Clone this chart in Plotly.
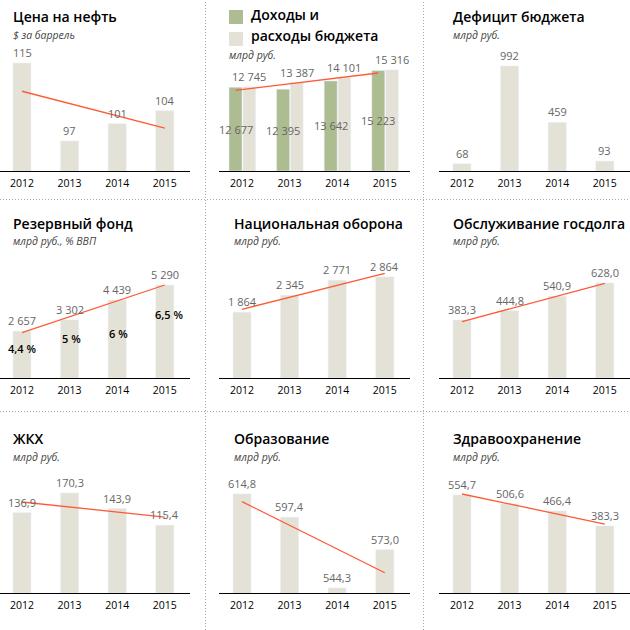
import plotly.graph_objects as go

years = ['2012', '2013', '2014', '2015']

# values
oil = [115, 97, 101, 104]
income = [12677, 12395, 13642, 15223]
spending = [12745, 13387, 14101, 15316]
deficit = [68, 992, 459, 93]
reserve = [2657, 3302, 4439, 5290]
reserve_pct = ['4,4 %', '5 %', '6 %', '6,5 %']
defence = [1864, 2345, 2771, 2864]
debt = [383.3, 444.8, 540.9, 628.0]
housing = [136.9, 170.3, 143.9, 115.4]
education = [614.8, 597.4, 544.3, 573.0]
health = [554.7, 506.6, 466.4, 383.3]

# straight red lines, start and end value
oil_trend = [108.5, 100]
budget_trend = [12200, 14850]
reserve_trend = [2577, 5290]
defence_trend = [1948, 2968]
debt_trend = [372, 626]
housing_trend = [155, 129.4]
education_trend = [609, 555.7]
health_trend = [560, 394]

labels = {
    'oil': ['115', '97', '101', '104'],
    'deficit': ['68', '992', '459', '93'],
    'income': ['12 677', '12 395', '13 642', '15 223'],
    'spending': ['12 745', '13 387', '14 101', '15 316'],
    'reserve': ['2 657', '3 302', '4 439', '5 290'],
    'defence': ['1 864', '2 345', '2 771', '2 864'],
    'debt': ['383,3', '444,8', '540,9', '628,0'],
    'housing': ['136,9', '170,3', '143,9', '115,4'],
    'education': ['614,8', '597,4', '544,3', '573,0'],
    'health': ['554,7', '506,6', '466,4', '383,3'],
}

W = 630
FONT = 'Open Sans'
BEIGE = '#e4e2d6'
GREEN = '#aebd91'
RED = '#ff5a36'
GREY = '#666666'
STEP = 47.6          # px between years
PLOT_H = 120         # px of each plot area

col_left = [0, 219, 439]
col_right = [190, 410, 630]
col_first = [22, 242, 462]
baseline = [171, 378, 593]
title_x = [11, 231.5, 451]
title_y = [16, 223, 438]
sub_y = [34.5, 241.5, 456.5]

# key, title, unit, values, trend, y axis range
panels = [
    ('oil', 'Цена на нефть', '$ за баррель', oil, oil_trend, [90.07, 117.8]),
    ('budget', None, None, spending, budget_trend, [0, 18180]),
    ('deficit', 'Дефицит бюджета', 'млрд руб.', deficit, None, [0, 1134]),
    ('reserve', 'Резервный фонд', 'млрд руб., % ВВП', reserve, reserve_trend, [0, 6826]),
    ('defence', 'Национальная оборона', 'млрд руб.', defence, defence_trend, [0, 3402]),
    ('debt', 'Обслуживание госдолга', 'млрд руб.', debt, debt_trend, [0, 793]),
    ('housing', 'ЖКХ', 'млрд руб.', housing, housing_trend, [0, 204.4]),
    ('education', 'Образование', 'млрд руб.', education, education_trend, [540.5, 630.5]),
    ('health', 'Здравоохранение', 'млрд руб.', health, health_trend, [13, 676]),
]

fig = go.Figure()
ann = []
shapes = []


def px_x(x):
    return x / W


def px_y(y):
    return 1 - y / W


def paper_text(x, y, text, size, color='black', weight=None, style=None):
    ann.append(dict(xref='paper', yref='paper', x=px_x(x), y=px_y(y), text=text,
                    showarrow=False, xanchor='left', yanchor='middle',
                    font=dict(family=FONT, size=size, color=color,
                              weight=weight, style=style)))


def value_text(n, x, y, text, shift=10.5, color=GREY, weight=None, size=11, xshift=0):
    ann.append(dict(xref='x%d' % n, yref='y%d' % n, x=x, y=y, text=text,
                    showarrow=False, xanchor='center', yanchor='middle',
                    yshift=shift, xshift=xshift,
                    font=dict(family=FONT, size=size, color=color, weight=weight)))


pos = [0, 1, 2, 3]
for i, (key, title, unit, vals, trend, yrange) in enumerate(panels):
    n = i + 1
    row, col = i // 3, i % 3
    xa, ya = 'x%d' % n, 'y%d' % n

    if key == 'budget':
        g_off, b_off = -13 / STEP, 1 / STEP
        g_w, b_w = 13 / STEP, 12.5 / STEP
        fig.add_bar(x=pos, y=income, width=g_w, offset=g_off, marker_color=GREEN,
                    xaxis=xa, yaxis=ya, showlegend=False)
        fig.add_bar(x=pos, y=spending, width=b_w, offset=b_off, marker_color=BEIGE,
                    xaxis=xa, yaxis=ya, showlegend=False)
        # numbers sit half way up the green bars and above the beige ones
        for p in pos:
            value_text(n, p + g_off + g_w / 2, income[p] / 2, labels['income'][p], shift=0)
            value_text(n, p + b_off + b_w / 2, spending[p], labels['spending'][p])
        line_x = [g_off / 2, 3 + g_off / 2]
    else:
        fig.add_bar(x=pos, y=vals, width=18 / STEP, marker_color=BEIGE,
                    xaxis=xa, yaxis=ya, showlegend=False)
        for p in pos:
            value_text(n, p, vals[p], labels[key][p])
        line_x = [0, 3]

    if trend:
        fig.add_scatter(x=line_x, y=trend, mode='lines', line=dict(color=RED, width=1.3),
                        xaxis=xa, yaxis=ya, showlegend=False)

    b = baseline[row]
    fig.update_layout({
        'xaxis%d' % n: dict(
            domain=[px_x(col_left[col]), px_x(col_right[col])],
            range=[(col_left[col] - col_first[col]) / STEP,
                   (col_right[col] - col_first[col]) / STEP],
            tickvals=pos, ticktext=years, showgrid=False, zeroline=False,
            showline=True, linecolor='black', linewidth=1.3, ticks='',
            ticklabelstandoff=2,
            tickfont=dict(family=FONT, size=10.5, color='black'),
            anchor=ya, fixedrange=True),
        'yaxis%d' % n: dict(
            domain=[px_y(b), px_y(b - PLOT_H)], range=yrange, visible=False,
            anchor=xa, fixedrange=True),
    })

    if title:
        paper_text(title_x[col], title_y[row], title, 14, weight=600)
        paper_text(title_x[col], sub_y[row], unit, 10.5, color='#444444', style='italic')

# percentages inside the reserve fund bars
pct_y = [1650, 2275, 2560, 3584]
pct_shift = [0, 2, 1, 4]
for p in pos:
    value_text(4, p, pct_y[p], reserve_pct[p], shift=0, color='black', weight=600,
               xshift=pct_shift[p])

# legend of the budget panel doubles as its title
paper_text(249, 14.5, 'Доходы и', 14, weight=600)
paper_text(249, 35.5, 'расходы бюджета', 14, weight=600)
paper_text(227, 54.5, 'млрд руб.', 10.5, color='#444444', style='italic')
for y0, c in [(10, GREEN), (32, BEIGE)]:
    shapes.append(dict(type='rect', xref='paper', yref='paper', line_width=0, fillcolor=c,
                       x0=px_x(229), x1=px_x(243), y0=px_y(y0), y1=px_y(y0 + 14)))

# dotted separators
for x in [205.5, 423.5]:
    shapes.append(dict(type='line', xref='paper', yref='paper', x0=px_x(x), x1=px_x(x),
                       y0=0, y1=1, line=dict(color='#aaaaaa', width=1, dash='1px,2px')))
for y in [199.5, 411.5]:
    shapes.append(dict(type='line', xref='paper', yref='paper', x0=0, x1=1,
                       y0=px_y(y), y1=px_y(y), line=dict(color='#aaaaaa', width=1, dash='1px,2px')))

fig.update_layout(width=W, height=W, margin=dict(l=0, r=0, t=0, b=0),
                  paper_bgcolor='white', plot_bgcolor='white', barmode='overlay',
                  annotations=ann, shapes=shapes, showlegend=False)

fig.write_html("out.html", config=dict(displayModeBar=False),
               post_script="document.body.style.margin='0';document.body.style.overflow='hidden';")
